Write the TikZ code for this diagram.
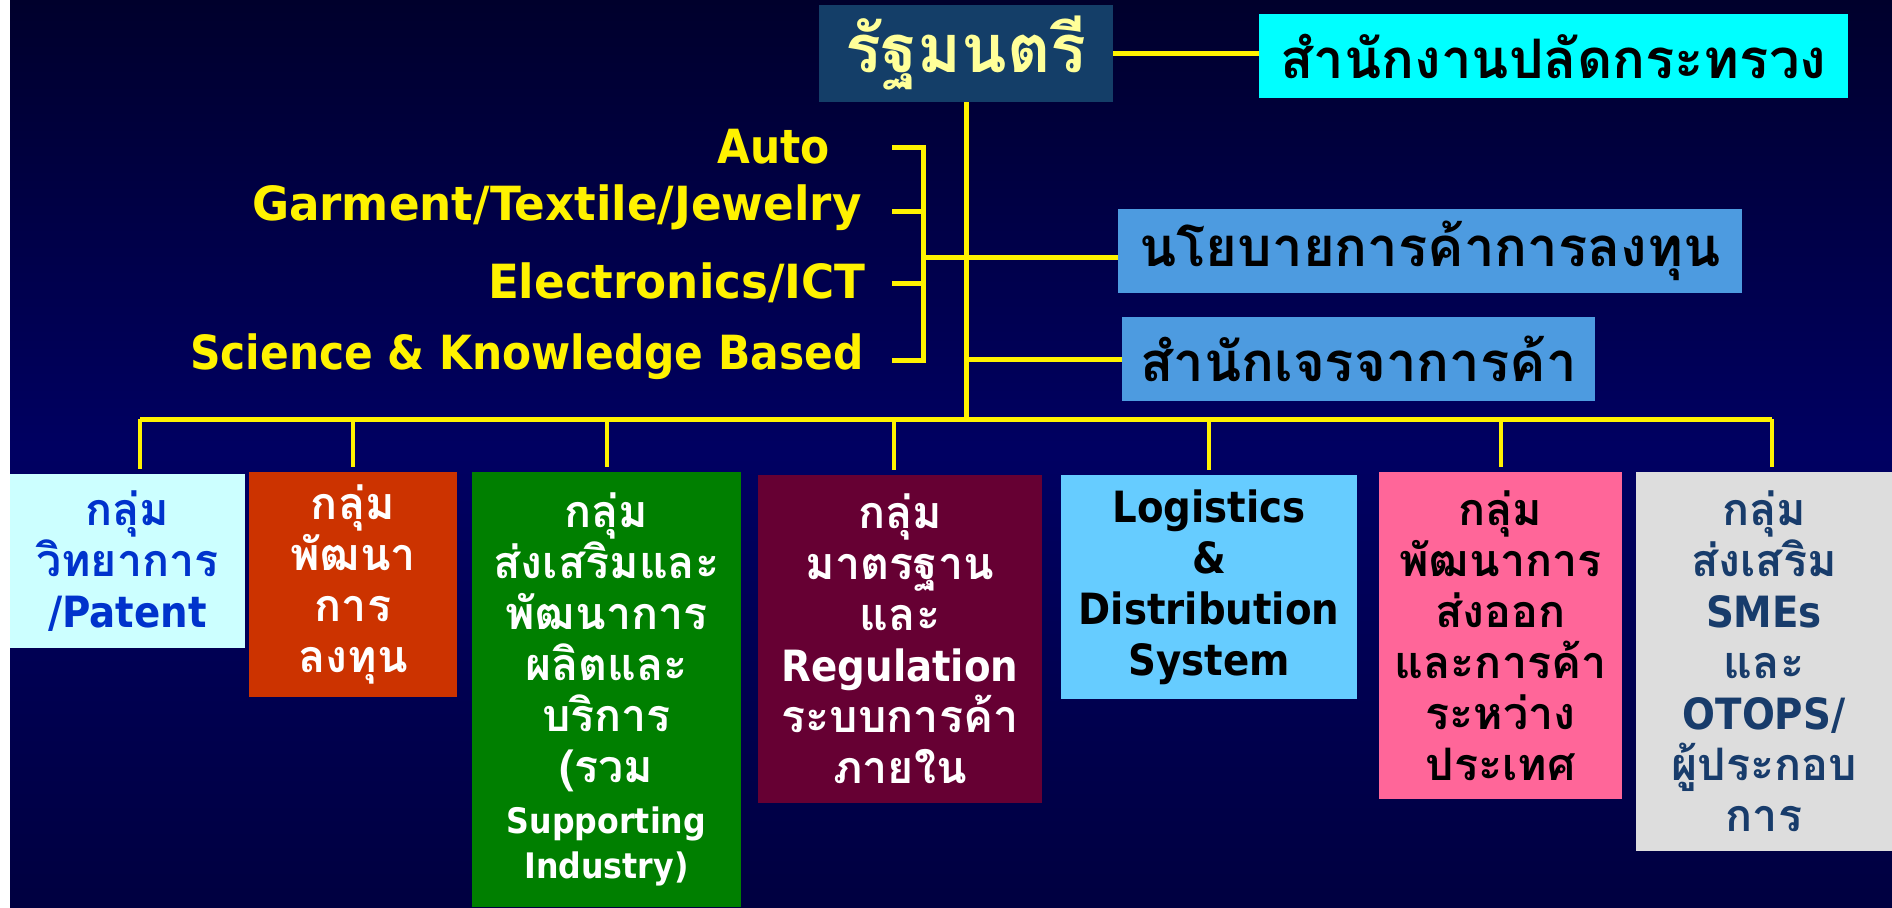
\documentclass[tikz,border=0pt]{standalone}
\usepackage{fontspec}
\setmainfont{DejaVu Sans}[FakeStretch=0.9]
\newfontfamily\widesans{DejaVu Sans}[FakeStretch=0.96]
\newfontfamily\thaifont[Script=Thai]{Loma}
\usetikzlibrary{positioning}

\definecolor{bgtop}{HTML}{00002C}
\definecolor{bgmid}{HTML}{000062}
\definecolor{bgbot}{HTML}{000040}
\definecolor{ministerblue}{HTML}{143E68}
\definecolor{paleyellow}{HTML}{FFFF99}
\definecolor{aqua}{HTML}{00FFFF}
\definecolor{officeblue}{HTML}{4D9BE0}
\definecolor{palecyan}{HTML}{CCFFFF}
\definecolor{patentblue}{HTML}{0033CC}
\definecolor{investred}{HTML}{CC3300}
\definecolor{promogreen}{HTML}{007F00}
\definecolor{stdmaroon}{HTML}{660033}
\definecolor{logisticblue}{HTML}{66CCFF}
\definecolor{exportpink}{HTML}{FF6699}
\definecolor{smegray}{HTML}{DDDDDD}
\definecolor{smetext}{HTML}{183C6B}

\tikzset{
  box/.style = {align=center, inner sep=0pt, text centered},
  topbox/.style = {box, font=\thaifont\bfseries\fontsize{31}{34}\selectfont,
    minimum height=16.8mm},
  groupbox/.style = {box, font=\thaifont\bfseries\fontsize{25.5}{29}\selectfont},
  sector/.style = {anchor=base east, inner sep=0pt, text=yellow,
    font=\bfseries\fontsize{26.8}{30}\selectfont},
  widesector/.style = {sector, font=\widesans\bfseries\fontsize{26.8}{30}\selectfont},
  link/.style = {draw=yellow, line width=1mm},
  drop/.style = {draw=yellow, line width=0.8mm, shorten >=1mm}
}
\newcommand{\lat}[1]{{\normalfont\bfseries\fontsize{24.5}{29}\selectfont #1}}
\newcommand{\smalllat}[1]{{\normalfont\bfseries\fontsize{20}{26}\selectfont #1}}

\begin{document}
\begin{tikzpicture}[x=0.2mm, y=-0.2mm]
\useasboundingbox (0,0) rectangle (1892,907);
\shade[top color=bgtop, bottom color=bgbot, middle color=bgmid] (10,0) rectangle (1892,907);

% top level
\node [box, fill=ministerblue, text=paleyellow, minimum width=58.8mm, minimum height=19.4mm,
  font=\thaifont\bfseries\fontsize{38}{42}\selectfont] (minister) at (966,53.5) {รัฐมนตรี};
\node [topbox, fill=aqua, minimum width=117.8mm] (secretary) at (1553.5,56) {สำนักงานปลัดกระทรวง};
\node [topbox, fill=officeblue, minimum width=124.8mm] (policy) at (1430,251) {นโยบายการค้าการลงทุน};
\node [topbox, fill=officeblue, minimum width=94.6mm] (negotiation) at (1358.5,359) {สำนักเจรจาการค้า};

% sectors
\node [sector] (auto) at (830,163) {Auto};
\node [widesector] (garment) at (862,220) {Garment/Textile/Jewelry};
\node [widesector] (electronics) at (866,298) {Electronics/ICT};
\node [sector] (science) at (864,369) {Science \& Knowledge Based};
\coordinate (tickA) at (892,147);
\coordinate (tickB) at (892,211);
\coordinate (tickC) at (892,283);
\coordinate (tickD) at (892,360);
\coordinate (bracket) at (923,257);

% groups
\node [groupbox, fill=palecyan, text=patentblue, minimum width=47mm, minimum height=34.8mm]
  (science group) at (127.5,561) {กลุ่ม\\วิทยาการ\\\lat{/Patent}};
\node [groupbox, fill=investred, text=white, minimum width=41.6mm, minimum height=45mm]
  (invest) at (353,584.5) {กลุ่ม\\พัฒนา\\การ\\ลงทุน};
\node [groupbox, fill=promogreen, text=white, minimum width=53.8mm, minimum height=87mm]
  (promote) at (606.5,689.5) {กลุ่ม\\ส่งเสริมและ\\พัฒนาการ\\ผลิตและ\\บริการ\\(รวม\\
  \smalllat{Supporting}\\[-1mm]\smalllat{Industry)}};
\node [groupbox, fill=stdmaroon, text=white, minimum width=56.8mm, minimum height=65.6mm]
  (standard) at (900,639) {กลุ่ม\\มาตรฐาน\\และ\\\lat{Regulation}\\ระบบการค้า\\ภายใน};
\node [groupbox, fill=logisticblue, text=black, minimum width=59.2mm, minimum height=44.8mm,
  font=\bfseries\fontsize{24.5}{29}\selectfont]
  (logistics) at (1209,587) {Logistics\\\&\\Distribution\\System};
\node [groupbox, fill=exportpink, text=black, minimum width=48.6mm, minimum height=65.4mm]
  (export) at (1500.5,635.5) {กลุ่ม\\พัฒนาการ\\ส่งออก\\และการค้า\\ระหว่าง\\ประเทศ};
\node [groupbox, fill=smegray, text=smetext, minimum width=51.2mm, minimum height=75.8mm]
  (sme) at (1764,661.5) {กลุ่ม\\ส่งเสริม\\\lat{SMEs}\\และ\\\lat{OTOPS/}\\ผู้ประกอบ\\การ};

\coordinate (busL) at (140,419);
\coordinate (busR) at (1772,419);

% connectors
\draw [link] (minister.east) -- (minister.east -| secretary.west);
\draw [link] (minister.south) -- (minister.south |- busL);
\draw [link] (busL) -- (busR);
\draw [link] (tickA) -- ++(31,0) |- (tickD);
\draw [link] (tickB) -- ++(31,0);
\draw [link] (tickC) -- ++(31,0);
\draw [link] (bracket) -- (bracket -| policy.west);
\draw [link] (minister.south |- negotiation) -- (negotiation.west);
\draw [drop] (busL) -- (busL |- science group.north);
\draw [drop] (invest.north |- busL) -- (invest.north);
\draw [drop] (promote.north |- busL) -- (promote.north);
\draw [drop] (894,419) -- (894,475);
\draw [drop] (logistics.north |- busL) -- (logistics.north);
\draw [drop] (export.north |- busL) -- (export.north);
\draw [drop] (busR) -- (busR |- sme.north);
\end{tikzpicture}
\end{document}
